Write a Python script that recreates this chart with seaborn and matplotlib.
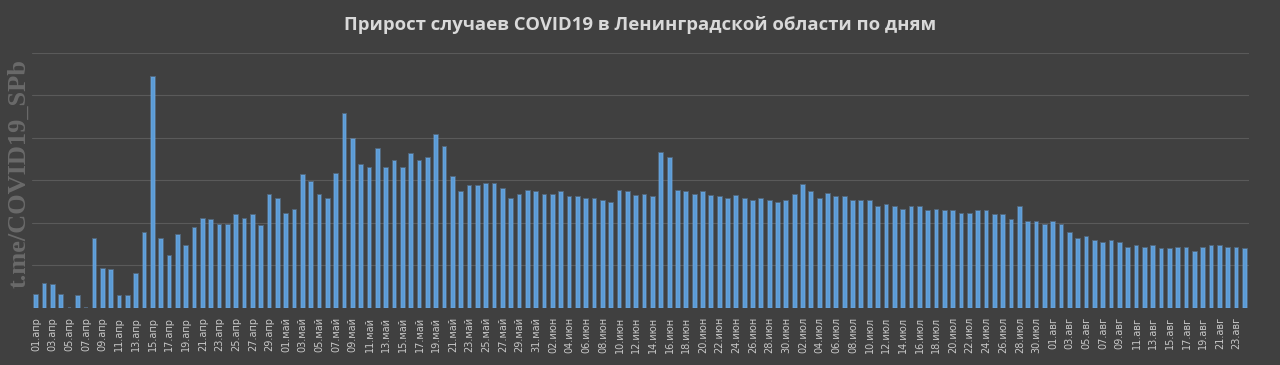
import matplotlib
matplotlib.use("Agg")
import matplotlib.pyplot as plt
import seaborn as sns
import pandas as pd

# data (scale: gridline step = 20)
months = ["апр", "май", "июн", "июл", "авг"]
days_in_month = [30, 31, 30, 31, 24]

apr = [6.3, 11.5, 10.7, 6.3, 0, 5.5, 0, 32.6, 18.5, 17.7, 5.5, 5.5, 16.2, 35.5, 108.7,
       32.3, 24.5, 34.5, 29.2, 37.7, 42.0, 41.3, 39.2, 39.2, 43.6, 42.0, 43.6, 38.4, 53.3, 51.5]
may = [44.4, 46.3, 62.4, 59.3, 53.0, 51.5, 63.2, 91.5, 79.4, 67.5, 66.1, 74.7, 66.1, 69.2, 66.1,
       72.3, 69.2, 70.6, 81.6, 75.8, 61.7, 54.6, 57.4, 57.4, 58.2, 58.2, 56.2, 51.5, 53.3, 55.1, 54.6]
jun = [53.3, 53.3, 54.6, 52.2, 52.2, 51.5, 51.5, 50.4, 49.4, 55.1, 54.6, 52.6, 53.3, 52.2, 73.1,
       70.6, 55.1, 54.6, 53.3, 54.6, 52.6, 52.2, 51.5, 52.6, 51.5, 50.4, 51.5, 50.4, 49.4, 50.4]
jul = [53.3, 57.7, 54.6, 51.5, 53.5, 52.2, 52.2, 50.4, 50.4, 50.4, 47.5, 48.3, 47.5, 46.3, 47.5,
       47.5, 45.5, 46.3, 45.5, 45.5, 44.4, 44.4, 45.5, 45.5, 43.6, 43.6, 41.6, 47.5, 40.5, 40.5, 39.2]
aug = [40.5, 39.2, 35.5, 32.3, 33.4, 31.5, 30.6, 31.5, 30.6, 28.4, 29.2, 28.4, 29.2, 27.6, 27.6,
       28.4, 28.4, 26.4, 28.4, 29.2, 29.2, 28.4, 28.4, 27.6]

title = "Прирост случаев COVID19 в Ленинградской области по дням"
watermark = "t.me/COVID19_SPb"

labels = [f"{d:02d}.{m}" for m, n in zip(months, days_in_month) for d in range(1, n + 1)]
df = pd.DataFrame({"date": labels, "cases": apr + may + jun + jul + aug})

bg = "#404040"
sns.set_style("dark", {"axes.facecolor": bg, "figure.facecolor": bg})

fig, ax = plt.subplots(figsize=(12.8, 3.65), dpi=100)
fig.subplots_adjust(left=0.0249, right=0.9758, top=0.8548, bottom=0.1562)

sns.barplot(data=df, x="date", y="cases", color="#5b9bd5", width=0.45, saturation=1,
            edgecolor=(0.45, 0.68, 0.90, 0.4), linewidth=1.3, ax=ax, zorder=3)

ax.set_ylim(0, 120)
ax.set_yticks(range(0, 121, 20))
ax.yaxis.grid(True, color="#5a5a5a", linewidth=0.8, zorder=0)
ax.tick_params(axis="y", left=False, labelleft=False)
ax.set_xticks(range(0, len(labels), 2))
ax.set_xticklabels(labels[::2], rotation=90, fontsize=7, color="#c8c8c8")
ax.tick_params(axis="x", bottom=False, pad=3)
ax.set_xlabel("")
ax.set_ylabel("")
for s in ax.spines.values():
    s.set_visible(False)

fig.text(0.5, 0.932, title, ha="center", va="center", fontsize=13.3, fontweight="bold",
         color="#d9d9d9", family="Open Sans")
fig.text(0.0145, 0.526, watermark, rotation=90, ha="center", va="center", fontsize=19,
         fontweight="bold", color="#6a6a6a", family="Liberation Serif")

plt.savefig("out.png", dpi=100, facecolor=bg)
